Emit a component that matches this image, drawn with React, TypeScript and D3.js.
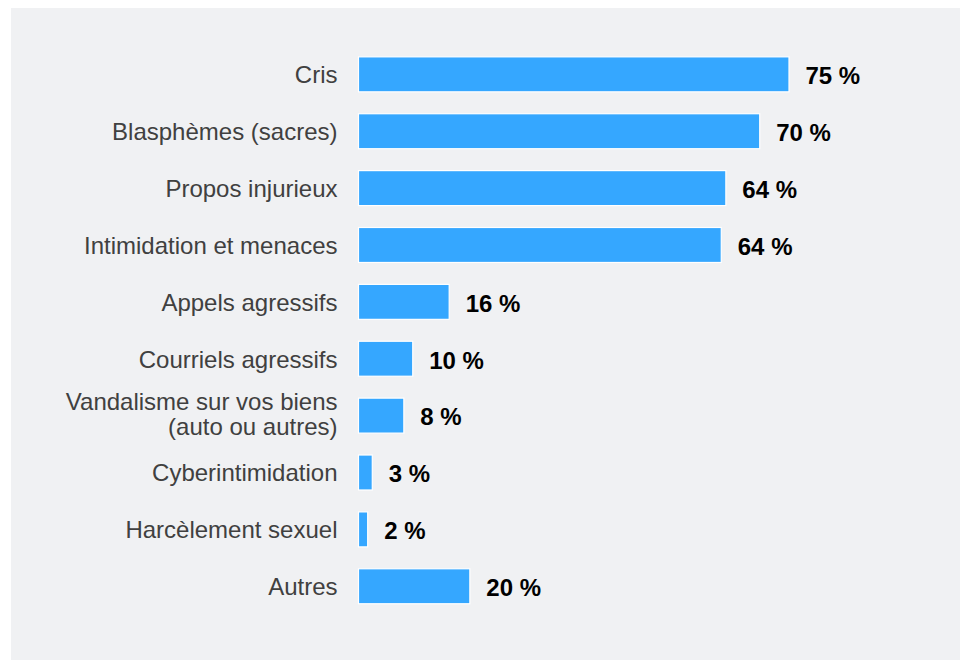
import React from "react";
import * as d3 from "d3";

const categories: string[][] = [
  ["Cris"],
  ["Blasphèmes (sacres)"],
  ["Propos injurieux"],
  ["Intimidation et menaces"],
  ["Appels agressifs"],
  ["Courriels agressifs"],
  ["Vandalisme sur vos biens", "(auto ou autres)"],
  ["Cyberintimidation"],
  ["Harcèlement sexuel"],
  ["Autres"],
];
const values: number[] = [75, 69.9, 64.0, 63.2, 15.8, 9.45, 7.9, 2.4, 1.6, 19.4];
const valueLabels: string[] = ["75 %", "70 %", "64 %", "64 %", "16 %", "10 %", "8 %", "3 %", "2 %", "20 %"];

const W = 961;
const H = 660;
const FONT = "'Liberation Sans', Arial, Helvetica, sans-serif";

export default function App() {
  const x = d3.scaleLinear().domain([0, 75]).range([358.5, 789]);
  const y = d3
    .scaleBand<number>()
    .domain(d3.range(values.length))
    .range([45.9, 45.9 + 56.88 * values.length])
    .paddingInner(0.385)
    .paddingOuter(0.1925);

  return (
    <svg
      width={W}
      height={H}
      style={{ position: "absolute", left: 0, top: 0, display: "block" }}
    >
      <rect x={0} y={0} width={W} height={H} fill="#ffffff" />
      <rect x={11} y={8} width={949} height={652} fill="#f0f1f3" />
      {values.map((v, i) => {
        const y0 = y(i) as number;
        const bw = y.bandwidth();
        const cy = y0 + bw / 2;
        const lines = categories[i];
        return (
          <g key={i}>
            <rect
              x={x(0)}
              y={y0}
              width={x(v) - x(0)}
              height={bw}
              fill="#35a7ff"
              stroke="#ffffff"
              strokeWidth={1.2}
            />
            <text
              textAnchor="end"
              fontFamily={FONT}
              fontSize={24}
              fill="#404040"
            >
              {lines.map((ln, k) => (
                <tspan
                  key={k}
                  x={337.5}
                  y={cy + 8.8 + (k - (lines.length - 1) / 2) * 25 - (lines.length > 1 ? 1.5 : 0)}
                >
                  {ln}
                </tspan>
              ))}
            </text>
            <text
              x={x(v) + 16.5}
              y={cy + 9.8}
              fontFamily={FONT}
              fontSize={24}
              fontWeight="bold"
              fill="#000000"
            >
              {valueLabels[i]}
            </text>
          </g>
        );
      })}
    </svg>
  );
}
